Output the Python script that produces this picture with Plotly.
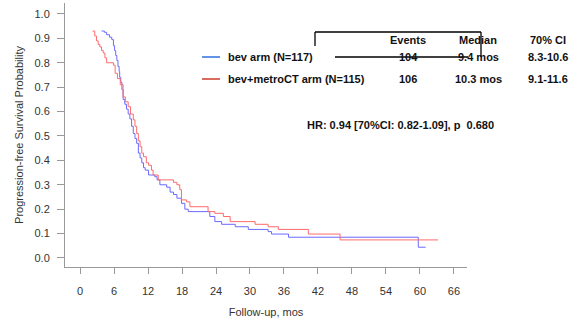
import plotly.graph_objects as go

# Kaplan-Meier step data (months, survival probability)
bev_t = [3.8, 4.3, 4.7, 5.2, 5.6, 5.9, 6.1, 6.3, 6.5, 6.7, 6.9, 7.0, 7.2, 7.4, 7.6, 7.9, 8.2, 8.5,
         8.8, 9.1, 9.4, 9.7, 10.0, 10.3, 10.6, 10.9, 11.2, 11.5, 12.1, 13.2, 13.6, 14.1, 15.3, 15.9,
         16.5, 17.1, 17.9, 18.5, 19.1, 22.9, 23.8, 25.0, 27.4, 29.7, 33.2, 33.8, 36.8, 59.7, 61.0]
bev_s = [0.93, 0.925, 0.915, 0.905, 0.895, 0.87, 0.85, 0.83, 0.81, 0.785, 0.765, 0.74, 0.72, 0.69,
         0.65, 0.63, 0.61, 0.59, 0.57, 0.54, 0.51, 0.49, 0.47, 0.43, 0.41, 0.39, 0.37, 0.36, 0.34,
         0.333, 0.32, 0.30, 0.29, 0.27, 0.26, 0.245, 0.224, 0.20, 0.19, 0.17, 0.149, 0.138, 0.128,
         0.117, 0.108, 0.098, 0.085, 0.044, 0.044]

met_t = [2.2, 2.6, 2.9, 3.2, 3.5, 3.8, 4.1, 4.4, 4.7, 5.9, 6.2, 6.6, 7.1, 7.6, 8.0, 8.5, 8.9, 9.4,
         9.7, 10.0, 10.3, 10.6, 10.9, 11.2, 11.7, 12.1, 12.6, 12.9, 13.8, 16.5, 17.1, 17.6, 17.9,
         18.8, 19.4, 22.6, 23.8, 25.3, 26.5, 30.9, 33.2, 35.0, 40.3, 45.9, 63.2]
met_s = [0.93, 0.91, 0.89, 0.875, 0.865, 0.85, 0.84, 0.82, 0.80, 0.79, 0.757, 0.735, 0.71, 0.66,
         0.64, 0.62, 0.59, 0.566, 0.54, 0.51, 0.48, 0.456, 0.43, 0.415, 0.39, 0.38, 0.36, 0.34,
         0.32, 0.31, 0.30, 0.28, 0.238, 0.23, 0.21, 0.19, 0.183, 0.17, 0.149, 0.138, 0.128, 0.117,
         0.098, 0.074, 0.074]

x_ticks = [0, 6, 12, 18, 24, 30, 36, 42, 48, 54, 60, 66]
y_ticks = [0.0, 0.1, 0.2, 0.3, 0.4, 0.5, 0.6, 0.7, 0.8, 0.9, 1.0]

arm_labels = ["bev arm (N=117)", "bev+metroCT arm (N=115)"]
table_header = ["Events", "Median", "70% CI"]
table_rows = [["104", "9.4 mos", "8.3-10.6"], ["106", "10.3 mos", "9.1-11.6"]]
hr_text = "HR: 0.94 [70%CI: 0.82-1.09], p  0.680"

FONT = "Liberation Sans, Arial, sans-serif"
W, H = 585, 331
L, R, T, B = 65, 118, 3, 64
PW, PH = W - L - R, H - T - B


def px(xp):
    return (xp - L) / PW


def py(yp):
    return (H - B - yp) / PH


fig = go.Figure()
fig.add_trace(go.Scatter(x=bev_t, y=bev_s, mode="lines", line_shape="hv",
                         line=dict(color="#6a6aff", width=1), showlegend=False))
fig.add_trace(go.Scatter(x=met_t, y=met_s, mode="lines", line_shape="hv",
                         line=dict(color="#ff6a6a", width=1), showlegend=False))

ann = []
shapes = []
# legend
leg_cols = ["#2e6fe0", "#cc3b2b"]
for i, (lab, col) in enumerate(zip(arm_labels, leg_cols)):
    yy = 57 + 22 * i
    shapes.append(dict(type="line", xref="paper", yref="paper", x0=px(202), x1=px(220),
                       y0=py(yy), y1=py(yy), line=dict(color=col, width=1.5)))
    ann.append(dict(x=px(226), y=py(yy), xref="paper", yref="paper", text="<b>%s</b>" % lab,
                    showarrow=False, xanchor="left", yanchor="middle",
                    font=dict(size=11, color="#111", family=FONT)))
col_x = [408, 478, 548]
for cx, h in zip(col_x, table_header):
    ann.append(dict(x=px(cx), y=py(40), xref="paper", yref="paper", text="<b>%s</b>" % h,
                    showarrow=False, xanchor="center", yanchor="middle",
                    font=dict(size=11, color="#111", family=FONT)))
for i, row in enumerate(table_rows):
    yy = 57 + 22 * i
    for cx, v in zip(col_x, row):
        ann.append(dict(x=px(cx), y=py(yy), xref="paper", yref="paper", text="<b>%s</b>" % v,
                        showarrow=False, xanchor="center", yanchor="middle",
                        font=dict(size=11, color="#111", family=FONT)))
ann.append(dict(x=px(400), y=py(125), xref="paper", yref="paper", text="<b>%s</b>" % hr_text,
                showarrow=False, xanchor="center", yanchor="middle",
                font=dict(size=11, color="#111", family=FONT)))

# bracket lines
blk = dict(color="black", width=1.3)
for (x0, y0, x1, y1) in [(315, 32, 315, 46), (315, 32, 481, 32), (481, 32, 481, 57), (335, 57, 468, 57)]:
    shapes.append(dict(type="line", xref="paper", yref="paper", x0=px(x0), x1=px(x1),
                       y0=py(y0), y1=py(y1), line=blk))

fig.update_layout(
    width=W, height=H, margin=dict(l=L, r=R, t=T, b=B),
    paper_bgcolor="white", plot_bgcolor="white",
    font=dict(family=FONT, size=11, color="#333"),
    annotations=ann, shapes=shapes,
    xaxis=dict(range=[-2.65, 68.3], tickvals=x_ticks, ticks="outside", ticklen=6,
               tickcolor="#999", showline=True, linecolor="#999", linewidth=1,
               showgrid=False, zeroline=False, ticklabelstandoff=8,
               tickfont=dict(size=11, color="#333"),
               title=dict(text="Follow-up, mos", standoff=12, font=dict(size=11, color="#333")),
               automargin=False),
    yaxis=dict(range=[-0.037, 1.045], tickvals=y_ticks, tickformat=".1f", ticks="outside",
               ticklen=7, tickcolor="#999", showline=True, linecolor="#999", linewidth=1,
               showgrid=False, zeroline=False, ticklabelstandoff=5,
               tickfont=dict(size=11, color="#333"),
               title=dict(text="Progression-free Survival Probability", standoff=8,
                          font=dict(size=11, color="#333")),
               automargin=False),
)
fig.write_html("out.html", config={"displayModeBar": False},
               post_script="document.body.style.margin='0px';")
